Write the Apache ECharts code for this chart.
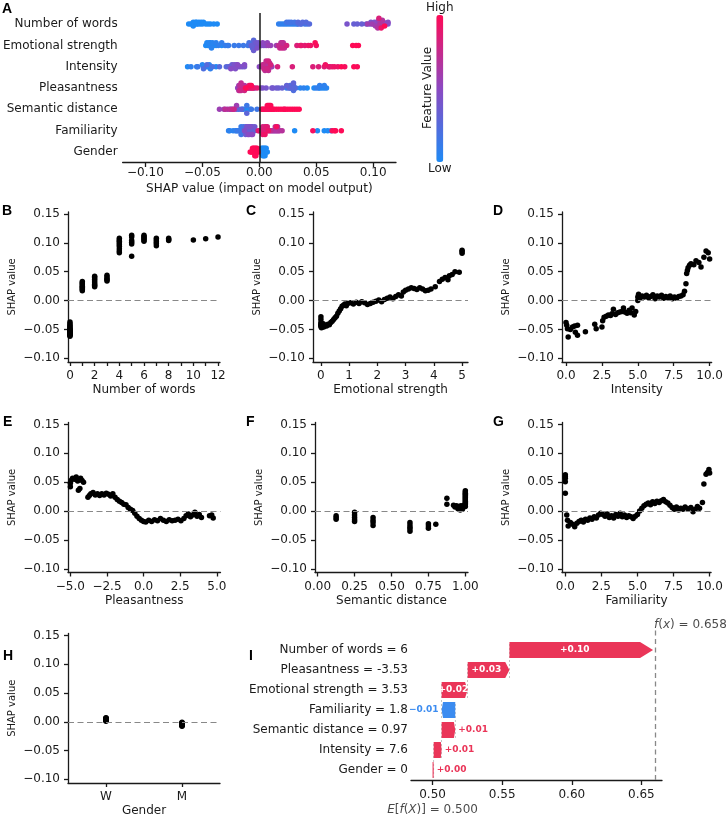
<!DOCTYPE html>
<html>
<head>
<meta charset="utf-8">
<title>SHAP summary</title>
<script src="https://cdn.jsdelivr.net/npm/echarts@6/dist/echarts.min.js"></script>
<style>
  html, body { margin: 0; padding: 0; background: #fff; }
  #chart { width: 726px; height: 818px; }
</style>
</head>
<body>
<div id="chart"></div>
<script>
// ---- data ----
// panel A rows, top to bottom
var featureNames = ['Number of words', 'Emotional strength', 'Intensity', 'Pleasantness',
                    'Semantic distance', 'Familiarity', 'Gender'];

// [feature value, SHAP value] per sample (panels B-H)
var wordsPts = [
  [0,-0.062],[0,-0.060],[0,-0.059],[0,-0.058],[0,-0.058],[0,-0.057],[0,-0.056],[0,-0.055],[0,-0.055],[0,-0.054],
  [0,-0.053],[0,-0.052],[0,-0.051],[0,-0.050],[0,-0.049],[0,-0.047],[0,-0.045],[0,-0.043],[0,-0.040],[0,-0.037],
  [1,0.017],[1,0.019],[1,0.021],[1,0.023],[1,0.025],[1,0.027],[1,0.029],[1,0.031],[1,0.033],
  [2,0.024],[2,0.026],[2,0.028],[2,0.031],[2,0.034],[2,0.037],[2,0.040],[2,0.042],
  [3,0.034],[3,0.036],[3,0.038],[3,0.041],[3,0.044],
  [4,0.083],[4,0.086],[4,0.090],[4,0.094],[4,0.097],[4,0.100],[4,0.103],[4,0.105],[4,0.108],
  [5,0.077],[5,0.098],[5,0.101],[5,0.104],[5,0.110],[5,0.113],
  [6,0.103],[6,0.105],[6,0.107],[6,0.109],[6,0.111],[6,0.113],
  [7,0.095],[7,0.099],[7,0.102],[7,0.105],[7,0.108],
  [8,0.104],[8,0.106],[8,0.108],
  [10,0.105],[11,0.107],[12,0.110]
];
var emoPts = [
  [0,-0.028],[0,-0.033],[0,-0.038],[0,-0.041],[0,-0.043],[0,-0.045],[0.02,-0.047],[0.05,-0.044],[0.08,-0.040],
  [0.1,-0.046],[0.15,-0.043],[0.2,-0.044],[0.25,-0.041],[0.3,-0.042],[0.35,-0.038],[0.4,-0.036],[0.45,-0.033],
  [0.5,-0.030],[0.55,-0.027],[0.6,-0.022],[0.65,-0.018],[0.7,-0.014],[0.75,-0.010],[0.8,-0.008],[0.85,-0.006],
  [0.9,-0.009],[0.95,-0.005],[1.05,-0.004],[1.15,-0.006],[1.25,-0.003],[1.35,-0.005],[1.45,-0.002],[1.55,-0.004],
  [1.65,-0.007],[1.75,-0.005],[1.85,-0.003],[1.95,-0.001],[2.05,0.001],[2.15,-0.002],[2.25,0.002],[2.35,0.004],
  [2.45,0.006],[2.55,0.003],[2.65,0.007],[2.75,0.010],[2.85,0.008],[2.92,0.015],[3.0,0.018],[3.1,0.020],
  [3.2,0.022],[3.3,0.021],[3.4,0.019],[3.5,0.022],[3.6,0.020],[3.7,0.017],[3.8,0.018],[3.9,0.020],[4.05,0.024],
  [4.2,0.033],[4.3,0.037],[4.4,0.040],[4.5,0.036],[4.55,0.043],[4.65,0.045],[4.75,0.050],[4.9,0.049],
  [5,0.082],[5,0.085],[5,0.087]
];
var intensityPts = [
  [0.0,-0.038],[0.05,-0.043],[0.1,-0.049],[0.15,-0.063],[0.3,-0.050],[0.45,-0.046],[0.6,-0.044],[0.65,-0.055],
  [0.8,-0.060],[0.8,-0.043],[1.35,-0.054],[2.0,-0.041],[2.1,-0.049],[2.5,-0.046],[2.55,-0.035],[2.65,-0.029],
  [2.8,-0.027],[2.95,-0.025],[3.1,-0.026],[3.2,-0.023],[3.3,-0.015],[3.45,-0.024],[3.6,-0.021],[3.75,-0.020],
  [3.9,-0.019],[4.0,-0.013],[4.1,-0.020],[4.25,-0.022],[4.4,-0.017],[4.5,-0.021],[4.6,-0.013],[4.75,-0.025],
  [4.85,-0.019],[5.0,0.000],[5.0,0.006],[5.05,0.011],[5.15,0.004],[5.3,0.008],[5.45,0.006],[5.6,0.009],
  [5.75,0.005],[5.9,0.007],[6.05,0.010],[6.2,0.003],[6.35,0.008],[6.5,0.006],[6.65,0.009],[6.8,0.004],
  [6.95,0.007],[7.1,0.005],[7.25,0.008],[7.4,0.003],[7.55,0.006],[7.7,0.004],[7.85,0.007],[8.0,0.008],
  [8.15,0.010],[8.25,0.016],[8.35,0.029],[8.4,0.047],[8.45,0.052],[8.5,0.057],[8.6,0.061],[8.7,0.064],
  [8.9,0.062],[9.05,0.069],[9.25,0.066],[9.4,0.058],[9.6,0.075],[9.75,0.086],[9.9,0.083],[10.0,0.072]
];
var pleasPts = [
  [-5.0,0.042],[-5.0,0.048],[-4.95,0.053],[-4.85,0.057],[-4.7,0.055],[-4.6,0.059],[-4.5,0.052],[-4.45,0.036],
  [-4.35,0.039],[-4.3,0.057],[-4.2,0.053],[-4.1,0.050],[-3.8,0.024],[-3.7,0.027],[-3.6,0.030],[-3.45,0.032],
  [-3.3,0.028],[-3.15,0.030],[-3.0,0.027],[-2.85,0.030],[-2.7,0.028],[-2.55,0.031],[-2.4,0.029],[-2.25,0.026],
  [-2.1,0.030],[-1.95,0.024],[-1.8,0.020],[-1.65,0.017],[-1.5,0.015],[-1.35,0.012],[-1.2,0.011],[-1.05,0.006],
  [-0.9,0.003],[-0.75,0.001],[-0.6,-0.004],[-0.45,-0.009],[-0.3,-0.013],[-0.15,-0.016],[0.0,-0.018],[0.15,-0.019],
  [0.35,-0.016],[0.55,-0.018],[0.75,-0.015],[0.95,-0.017],[1.15,-0.013],[1.35,-0.016],[1.55,-0.018],[1.75,-0.015],
  [1.95,-0.017],[2.15,-0.016],[2.35,-0.014],[2.55,-0.017],[2.75,-0.013],[2.9,-0.008],[3.05,-0.005],[3.2,-0.010],
  [3.35,-0.007],[3.5,-0.002],[3.65,-0.009],[3.8,-0.006],[3.95,-0.011],[4.5,-0.008],[4.65,-0.007],[4.75,-0.012]
];
var semPts = [
  [0.125,-0.008],[0.125,-0.011],[0.125,-0.014],[0.25,-0.002],[0.25,-0.007],[0.25,-0.011],[0.25,-0.015],[0.25,-0.018],
  [0.375,-0.011],[0.375,-0.016],[0.375,-0.020],[0.375,-0.025],[0.625,-0.020],[0.625,-0.024],[0.625,-0.028],
  [0.625,-0.031],[0.625,-0.035],[0.75,-0.022],[0.75,-0.026],[0.75,-0.030],[0.8,-0.023],[0.875,0.012],[0.875,0.022],
  [0.92,0.010],[0.93,0.007],[0.94,0.009],[0.95,0.004],[0.955,0.008],[0.96,0.006],[0.965,0.002],[0.97,0.009],
  [0.975,0.005],[0.98,0.003],[0.985,0.007],[0.99,0.010],[1.0,0.008],[1.0,0.011],[1.0,0.013],[1.0,0.015],
  [1.0,0.017],[1.0,0.019],[1.0,0.021],[1.0,0.023],[1.0,0.025],[1.0,0.027],[1.0,0.029],[1.0,0.031],[1.0,0.033],[1.0,0.035]
];
var famPts = [
  [0.0,0.031],[0.0,0.051],[0.0,0.057],[0.0,0.060],[0.0,0.063],[0.1,-0.007],[0.15,-0.016],[0.2,-0.026],[0.35,-0.020],
  [0.5,-0.023],[0.65,-0.027],[0.8,-0.021],[0.95,-0.018],[1.1,-0.016],[1.25,-0.019],[1.4,-0.014],[1.55,-0.016],
  [1.7,-0.012],[1.85,-0.014],[2.0,-0.010],[2.15,-0.012],[2.3,-0.007],[2.45,-0.004],[2.6,-0.006],[2.75,-0.009],
  [2.9,-0.005],[3.05,-0.011],[3.2,-0.008],[3.35,-0.012],[3.5,-0.006],[3.65,-0.009],[3.8,-0.004],[3.95,-0.010],
  [4.1,-0.007],[4.25,-0.011],[4.4,-0.008],[4.55,-0.010],[4.7,-0.013],[4.85,-0.009],[5.0,-0.006],[5.15,0.000],
  [5.3,0.005],[5.45,0.009],[5.6,0.012],[5.75,0.014],[5.9,0.011],[6.05,0.016],[6.2,0.013],[6.35,0.017],[6.5,0.015],
  [6.65,0.018],[6.8,0.020],[6.95,0.016],[7.1,0.014],[7.25,0.010],[7.4,0.006],[7.55,0.003],[7.7,0.007],[7.85,0.002],
  [8.0,0.005],[8.15,0.003],[8.3,0.007],[8.5,0.004],[8.7,0.006],[8.85,-0.001],[9.0,0.003],[9.15,0.008],[9.3,0.005],
  [9.5,0.015],[9.6,0.047],[9.75,0.064],[9.85,0.067],[9.95,0.072],[10.0,0.066]
];
// gender: 0 = W, 1 = M
var genderPts = [
  [0,0.001],[0,0.002],[0,0.002],[0,0.003],[0,0.003],[0,0.004],[0,0.004],[0,0.004],[0,0.005],[0,0.005],
  [0,0.005],[0,0.006],[0,0.006],[0,0.007],[0,0.003],
  [1,-0.001],[1,-0.002],[1,-0.002],[1,-0.003],[1,-0.003],[1,-0.004],[1,-0.004],[1,-0.005],[1,-0.005],[1,-0.006],
  [1,-0.006],[1,-0.007],[1,-0.008],[1,-0.004],[1,-0.003]
];
var genderNames = ['W', 'M'];

// tick labels
var shapTicks = [-0.1, -0.05, 0, 0.05, 0.1];
var depYTicks = [-0.1, -0.05, 0, 0.05, 0.1, 0.15];
var wordTicks = [0,1,2,3,4,5,6,7,8,9,10,11,12];
var wordLabels = [0,2,4,6,8,10,12];
var emoTicks = [0,1,2,3,4,5];
var tenTicks = [0, 2.5, 5, 7.5, 10];
var pleasTicks = [-5, -2.5, 0, 2.5, 5];
var semTicks = [0, 0.25, 0.5, 0.75, 1];
var genderTicks = [0, 1];

// panel I waterfall, bottom to top
var wfLabels = ['Gender = 0', 'Intensity = 7.6', 'Semantic distance = 0.97', 'Familiarity = 1.8',
                'Emotional strength = 3.53', 'Pleasantness = -3.53', 'Number of words = 6'];
var wfContrib = [0.0008, 0.0057, 0.0098, -0.0098, 0.0187, 0.0300, 0.1032];
var baseValue = 0.5;
var wfTicks = [0.5, 0.55, 0.6, 0.65];

// ---- chart ----
var FONT = 'DejaVu Sans';
var INK = '#1a1a1a';
var RED = '#ea3558';
var BLUE = '#3c8cf0';

function fmt(v, d) {
  var s = Math.abs(v).toFixed(d);
  return (v < 0 && +s !== 0 ? '\u2212' : '') + s;
}
var txt = { color: INK, fontSize: 12, fontFamily: FONT };

// beeswarm offsets, same binning as shap's summary plot
function swarm(vals) {
  var mn = Math.min.apply(null, vals), mx = Math.max.apply(null, vals);
  var quant = vals.map(function (v) { return Math.round(100 * (v - mn) / (mx - mn + 1e-8)); });
  var idx = vals.map(function (v, i) { return i; });
  idx.sort(function (a, b) { return quant[a] - quant[b] || a - b; });
  var ys = vals.map(function () { return 0; });
  var layer = 0, last = -1;
  idx.forEach(function (i) {
    if (quant[i] !== last) layer = 0;
    ys[i] = Math.ceil(layer / 2) * ((layer % 2) * 2 - 1);
    layer++;
    last = quant[i];
  });
  var m = Math.max.apply(null, ys.map(function (y) { return y + 1; }));
  return ys.map(function (y) { return y * 0.9 * 0.4 / m; });
}

var allFeatures = [wordsPts, emoPts, intensityPts, pleasPts, semPts, famPts, genderPts];
var beeData = [];
allFeatures.forEach(function (pts, k) {
  var row = 6 - k;
  var vals = pts.map(function (p) { return p[1]; });
  var fv = pts.map(function (p) { return p[0]; });
  var lo = Math.min.apply(null, fv), hi = Math.max.apply(null, fv);
  var jit = swarm(vals);
  pts.forEach(function (p, i) {
    beeData.push([p[1], row + jit[i], (p[0] - lo) / (hi - lo)]);
  });
});

var grids = [{ left: 122, top: 13, width: 274, height: 149 }];
var xAxes = [{
  gridIndex: 0, type: 'value', min: -0.12, max: 0.12,
  axisLine: { onZero: false, lineStyle: { color: INK, width: 1.3 } },
  axisTick: { customValues: shapTicks, length: 5, lineStyle: { color: INK, width: 1.3 } },
  axisLabel: Object.assign({ customValues: shapTicks, margin: 5, formatter: function (v) { return fmt(v, 2); } }, txt),
  splitLine: { show: false },
  name: 'SHAP value (impact on model output)', nameLocation: 'middle', nameGap: 21, nameTextStyle: txt
}];
var yAxes = [{
  gridIndex: 0, type: 'value', min: -0.47, max: 6.52,
  axisLine: { show: false, onZero: false }, axisTick: { show: false }, splitLine: { show: false },
  axisLabel: Object.assign({ customValues: [0,1,2,3,4,5,6], margin: 5,
    formatter: function (v) { return featureNames[6 - Math.round(v)]; } }, txt)
}];
var series = [{
  type: 'scatter', xAxisIndex: 0, yAxisIndex: 0, data: beeData, symbolSize: 5.5,
  itemStyle: { opacity: 1 },
  markLine: { silent: true, symbol: 'none', label: { show: false },
    lineStyle: { color: INK, width: 1.5, type: 'solid' }, data: [{ xAxis: 0 }] }
}];

// dependence panels B-H
var depPanels = [
  { pts: wordsPts, title: 'Number of words', left: 68, top: 212, width: 152, xr: [-0.16, 12.16],
    ticks: wordTicks, labels: wordLabels, f: function (v) { return String(v); } },
  { pts: emoPts, title: 'Emotional strength', left: 313, top: 212, width: 155, xr: [-0.28, 5.21],
    ticks: emoTicks, labels: emoTicks, f: function (v) { return String(v); } },
  { pts: intensityPts, title: 'Intensity', left: 562, top: 212, width: 151, xr: [-0.28, 10.14],
    ticks: tenTicks, labels: tenTicks, f: function (v) { return fmt(v, 1); } },
  { pts: pleasPts, title: 'Pleasantness', left: 68, top: 422.5, width: 152.5, xr: [-5.16, 5.25],
    ticks: pleasTicks, labels: pleasTicks, f: function (v) { return fmt(v, 1); } },
  { pts: semPts, title: 'Semantic distance', left: 315, top: 422.5, width: 153, xr: [-0.018, 1.018],
    ticks: semTicks, labels: semTicks, f: function (v) { return fmt(v, 2); } },
  { pts: famPts, title: 'Familiarity', left: 562, top: 422.5, width: 152, xr: [-0.23, 10.1],
    ticks: tenTicks, labels: tenTicks, f: function (v) { return fmt(v, 1); } },
  { pts: genderPts, title: 'Gender', left: 68, top: 633.5, width: 152, xr: [-0.5, 1.5],
    ticks: genderTicks, labels: genderTicks, f: function (v) { return genderNames[Math.round(v)]; } }
];
depPanels.forEach(function (p, i) {
  var g = i + 1;
  grids.push({ left: p.left, top: p.top, width: p.width, height: 150 });
  xAxes.push({
    gridIndex: g, type: 'value', min: p.xr[0], max: p.xr[1],
    axisLine: { onZero: false, lineStyle: { color: INK, width: 1.3 } },
    axisTick: { customValues: p.ticks, length: 4, lineStyle: { color: INK, width: 1.3 } },
    axisLabel: Object.assign({ customValues: p.labels, margin: 8, formatter: p.f }, txt),
    splitLine: { show: false },
    name: p.title, nameLocation: 'middle', nameGap: 22, nameTextStyle: txt
  });
  yAxes.push({
    gridIndex: g, type: 'value', min: -0.1065, max: 0.1535,
    axisLine: { onZero: false, lineStyle: { color: INK, width: 1.3 } },
    axisTick: { customValues: depYTicks, length: 4, lineStyle: { color: INK, width: 1.3 } },
    axisLabel: Object.assign({ customValues: depYTicks, margin: 8, formatter: function (v) { return fmt(v, 2); } }, txt),
    splitLine: { show: false },
    name: 'SHAP value', nameLocation: 'middle', nameGap: 51,
    nameTextStyle: { color: INK, fontSize: 10, fontFamily: FONT }
  });
  series.push({
    type: 'scatter', xAxisIndex: g, yAxisIndex: g, data: p.pts, symbolSize: 5.5,
    itemStyle: { color: '#000', opacity: 1 },
    markLine: { silent: true, symbol: 'none', label: { show: false },
      lineStyle: { color: '#888', width: 1.2, type: [6, 3.5] }, data: [{ yAxis: 0 }] }
  });
});

// waterfall (panel I)
var wfData = [];
var run = baseValue;
wfContrib.forEach(function (c, i) {
  wfData.push([i, run, run + c, c]);
  run += c;
});
var fx = run;

grids.push({ left: 411, top: 630, width: 251, height: 150 });
xAxes.push({
  gridIndex: 8, type: 'value', min: 0.4845, max: 0.6648,
  axisLine: { onZero: false, lineStyle: { color: INK, width: 1.3 } },
  axisTick: { customValues: wfTicks, length: 5, lineStyle: { color: INK, width: 1.3 } },
  axisLabel: Object.assign({ customValues: wfTicks, margin: 9, formatter: function (v) { return v.toFixed(2); } }, txt),
  splitLine: { show: false }
});
yAxes.push({
  gridIndex: 8, type: 'value', min: -0.5, max: 7,
  axisLine: { show: false, onZero: false }, axisTick: { show: false }, splitLine: { show: false },
  axisLabel: Object.assign({ customValues: [0,1,2,3,4,5,6], margin: 3,
    formatter: function (v) { return wfLabels[Math.round(v)]; } }, txt)
});

function renderWaterfall(params, api) {
  var row = api.value(0), s = api.value(1), e = api.value(2), c = api.value(3);
  var a = api.coord([s, row]), b = api.coord([e, row]);
  var h = api.size([0, 0.8])[1];
  var dir = e >= s ? 1 : -1;
  var hl = Math.min(13, Math.abs(b[0] - a[0]) * 0.1);
  var neck = b[0] - dir * hl;
  var y0 = a[1] - h / 2, y1 = a[1] + h / 2;
  var color = c >= 0 ? RED : BLUE;
  var kids = [];
  if (row < wfContrib.length - 1) {
    var up = api.coord([e, row + 1.4]), dn = api.coord([e, row - 0.4]);
    kids.push({ type: 'line', shape: { x1: b[0], y1: dn[1], x2: b[0], y2: up[1] },
      style: { stroke: '#aaa', lineWidth: 0.7, lineDash: [2, 2] } });
  }
  kids.push({ type: 'polygon',
    shape: { points: [[a[0], y0], [neck, y0], [b[0], a[1]], [neck, y1], [a[0], y1]] },
    style: { fill: color } });
  var label = (c >= 0 ? '+' : '\u2212') + Math.abs(c).toFixed(2);
  if (Math.abs(c) >= 0.015) {
    kids.push({ type: 'text', x: (a[0] + neck) / 2, y: a[1],
      style: { text: label, fill: '#fff', font: 'bold 9px "DejaVu Sans"', align: 'center', verticalAlign: 'middle' } });
  } else {
    kids.push({ type: 'text', x: b[0] + dir * 3, y: a[1],
      style: { text: label, fill: color, font: 'bold 9px "DejaVu Sans"',
        align: dir > 0 ? 'left' : 'right', verticalAlign: 'middle' } });
  }
  return { type: 'group', children: kids };
}

series.push({
  type: 'custom', xAxisIndex: 8, yAxisIndex: 8, data: wfData, clip: false,
  renderItem: renderWaterfall, encode: { x: [1, 2], y: 0 }
});
series.push({
  type: 'scatter', xAxisIndex: 8, yAxisIndex: 8, symbolSize: 0, silent: true,
  data: [
    { value: [fx, 7], label: { show: true, position: [1, -5], align: 'left', verticalAlign: 'middle',
      formatter: '{i|f}({i|x}) = ' + fx.toFixed(3) } },
    { value: [baseValue, -0.5], label: { show: true, position: [0, 30], align: 'center', verticalAlign: 'middle',
      formatter: '{i|E}[{i|f}({i|X})] = ' + baseValue.toFixed(3) } }
  ],
  label: { color: INK, fontSize: 12, fontFamily: FONT,
    rich: { i: { fontStyle: 'italic', color: INK, fontSize: 12, fontFamily: FONT } } },
  markLine: { silent: true, symbol: 'none', label: { show: false },
    lineStyle: { color: '#888', width: 1.3, type: [5, 3.5] }, data: [{ xAxis: fx }] }
});

// panel letters
var letters = [['A', 2, 2], ['B', 2, 204], ['C', 246, 204], ['D', 493, 204],
               ['E', 3, 415], ['F', 246, 415], ['G', 493, 415], ['H', 3, 649], ['I', 249, 649]];
var graphics = letters.map(function (l) {
  return { type: 'text', left: l[1], top: l[2],
    style: { text: l[0], font: 'bold 14px "Liberation Sans"', fill: '#000' } };
});
graphics.push({ type: 'text', x: 428, y: 88, rotation: Math.PI / 2,
  style: { text: 'Feature Value', font: '12px "DejaVu Sans"', fill: INK, align: 'center', verticalAlign: 'middle' } });

var chart = echarts.init(document.getElementById('chart'));
chart.setOption({
  animation: false,
  backgroundColor: '#fff',
  grid: grids,
  xAxis: xAxes,
  yAxis: yAxes,
  visualMap: {
    type: 'continuous', min: 0, max: 1, dimension: 2, seriesIndex: 0,
    orient: 'vertical', left: 411, top: -13, itemWidth: 7, itemHeight: 147,
    text: ['High', 'Low'], textGap: 1, calculable: false, hoverLink: false,
    inRange: { color: ['#1e8bf5', '#8c49c2', '#ff0a56'] },
    textStyle: txt
  },
  graphic: graphics,
  series: series
});
</script>
</body>
</html>
